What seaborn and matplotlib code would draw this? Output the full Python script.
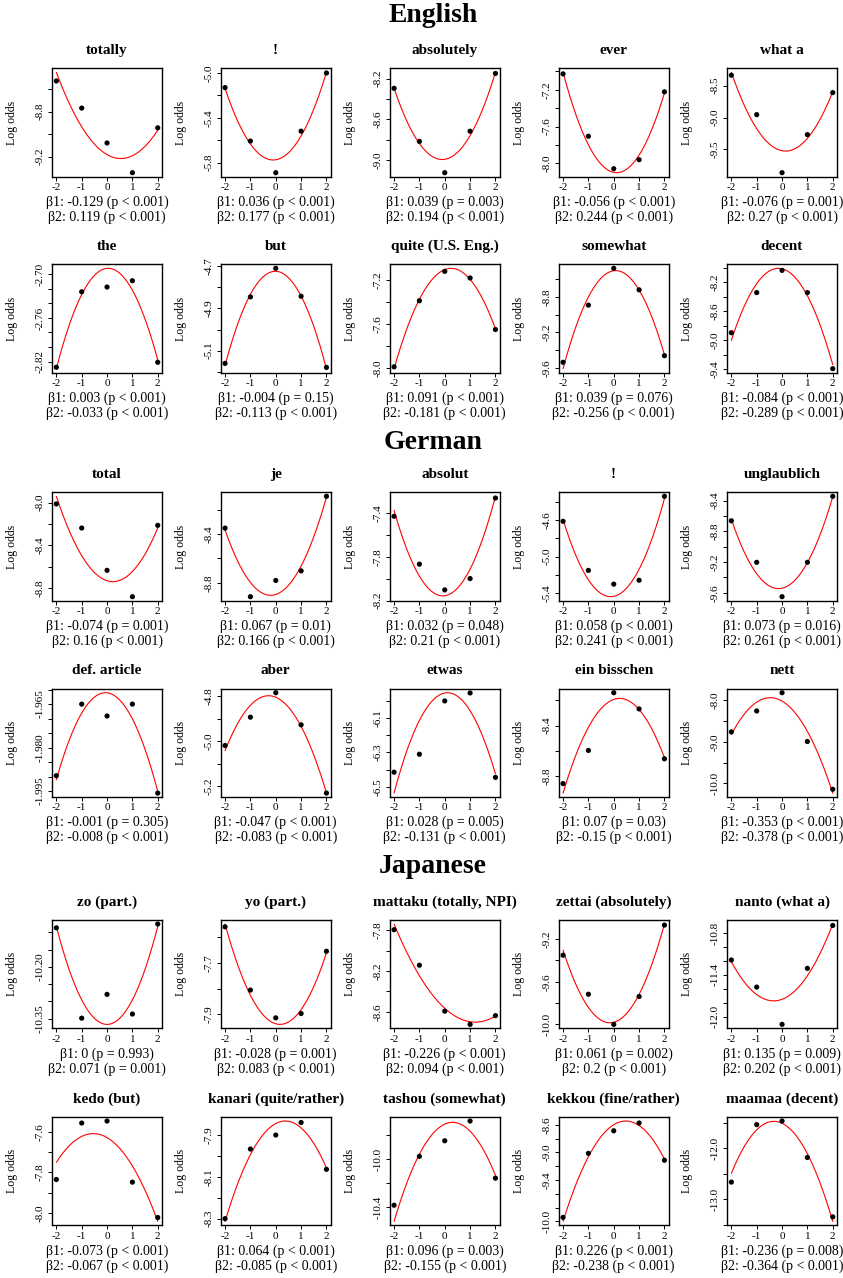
import numpy as np
import matplotlib
matplotlib.use("Agg")
import matplotlib.pyplot as plt
import seaborn as sns
from matplotlib.ticker import MultipleLocator

sns.set_style("ticks")
plt.rcParams['font.family'] = ['Liberation Serif', 'DejaVu Serif']
plt.rcParams['axes.unicode_minus'] = False
for key in ['text.color', 'axes.labelcolor', 'xtick.color', 'ytick.color', 'axes.edgecolor']:
    plt.rcParams[key] = 'black'

# section headers (one per language, two rows of five panels each)
languages = ["English", "German", "Japanese"]

titles = [
    "totally", "!", "absolutely", "ever", "what a",
    "the", "but", "quite (U.S. Eng.)", "somewhat", "decent",
    "total", "je", "absolut", "!", "unglaublich",
    "def. article", "aber", "etwas", "ein bisschen", "nett",
    "zo (part.)", "yo (part.)", "mattaku (totally, NPI)", "zettai (absolutely)", "nanto (what a)",
    "kedo (but)", "kanari (quite/rather)", "tashou (somewhat)", "kekkou (fine/rather)", "maamaa (decent)",
]

x_levels = [-2, -1, 0, 1, 2]

# observed log odds at each level
log_odds = [
    [-8.526, -8.768, -9.079, -9.344, -8.944],
    [-5.130, -5.607, -5.889, -5.519, -5.000],
    [-8.294, -8.815, -9.122, -8.715, -8.148],
    [-7.027, -7.705, -8.058, -7.960, -7.222],
    [-8.335, -8.954, -9.866, -9.268, -8.608],
    [-2.8278, -2.724, -2.7175, -2.7088, -2.821],
    [-5.160, -4.846, -4.711, -4.843, -5.179],
    [-7.991, -7.387, -7.118, -7.179, -7.650],
    [-9.536, -8.893, -8.479, -8.721, -9.462],
    [-8.894, -8.340, -8.033, -8.340, -9.391],
    [-8.012, -8.237, -8.632, -8.878, -8.212],
    [-8.351, -8.914, -8.781, -8.702, -8.090],
    [-7.433, -7.868, -8.102, -7.999, -7.267],
    [-4.611, -5.153, -5.305, -5.262, -4.335],
    [-8.663, -9.204, -9.652, -9.204, -8.344],
    [-1.9897, -1.9650, -1.9691, -1.9650, -1.9957],
    [-5.019, -4.893, -4.784, -4.927, -5.231],
    [-6.415, -6.311, -6.002, -5.956, -6.445],
    [-8.858, -8.596, -8.140, -8.268, -8.662],
    [-8.760, -8.256, -7.816, -8.992, -10.144],
    [-10.087, -10.349, -10.280, -10.337, -10.076],
    [-7.560, -7.806, -7.914, -7.897, -7.655],
    [-7.794, -8.143, -8.594, -8.724, -8.638],
    [-9.351, -9.717, -10.000, -9.738, -9.068],
    [-11.186, -11.574, -12.108, -11.306, -10.692],
    [-7.835, -7.556, -7.546, -7.848, -8.023],
    [-8.300, -7.967, -7.900, -7.840, -8.064],
    [-10.386, -9.978, -9.848, -9.683, -10.160],
    [-9.943, -9.013, -8.685, -8.572, -9.113],
    [-12.665, -11.535, -11.465, -12.181, -13.348],
]

# quadratic model: intercept + b1*x + b2*x^2
intercepts = [
    -9.183, -5.774, -8.991, -8.098, -9.521,
    -2.6918, -4.725, -7.102, -8.506, -8.011,
    -8.729, -8.896, -8.155, -5.440, -9.542,
    -1.9611, -4.804, -5.956, -8.193, -8.018,
    -10.367, -7.937, -8.566, -9.980, -11.749,
    -7.628, -7.845, -9.709, -8.597, -11.509,
]
beta1 = [
    -0.129, 0.036, 0.039, -0.056, -0.076,
    0.003, -0.004, 0.091, 0.039, -0.084,
    -0.074, 0.067, 0.032, 0.058, 0.073,
    -0.001, -0.047, 0.028, 0.07, -0.353,
    0, -0.028, -0.226, 0.061, 0.135,
    -0.073, 0.064, 0.096, 0.226, -0.236,
]
beta2 = [
    0.119, 0.177, 0.194, 0.244, 0.27,
    -0.033, -0.113, -0.181, -0.256, -0.289,
    0.16, 0.166, 0.21, 0.241, 0.261,
    -0.008, -0.083, -0.131, -0.15, -0.378,
    0.071, 0.083, 0.094, 0.2, 0.202,
    -0.067, -0.085, -0.155, -0.238, -0.364,
]
p_beta1 = [
    "< 0.001", "< 0.001", "= 0.003", "< 0.001", "= 0.001",
    "< 0.001", "= 0.15", "< 0.001", "= 0.076", "< 0.001",
    "= 0.001", "= 0.01", "= 0.048", "< 0.001", "= 0.016",
    "= 0.305", "< 0.001", "= 0.005", "= 0.03", "< 0.001",
    "= 0.993", "= 0.001", "< 0.001", "= 0.002", "= 0.009",
    "< 0.001", "< 0.001", "= 0.003", "< 0.001", "= 0.008",
]
p_beta2 = [
    "< 0.001", "< 0.001", "< 0.001", "< 0.001", "< 0.001",
    "< 0.001", "< 0.001", "< 0.001", "< 0.001", "< 0.001",
    "< 0.001", "< 0.001", "< 0.001", "< 0.001", "< 0.001",
    "< 0.001", "< 0.001", "< 0.001", "< 0.001", "< 0.001",
    "= 0.001", "< 0.001", "< 0.001", "< 0.001", "< 0.001",
    "< 0.001", "< 0.001", "< 0.001", "< 0.001", "< 0.001",
]

# labelled y ticks and the spacing of all ticks
ytick_labels = [
    ["-9.2", "-8.8"], ["-5.8", "-5.4", "-5.0"], ["-9.0", "-8.6", "-8.2"],
    ["-8.0", "-7.6", "-7.2"], ["-9.5", "-9.0", "-8.5"],
    ["-2.82", "-2.76", "-2.70"], ["-5.1", "-4.9", "-4.7"], ["-8.0", "-7.6", "-7.2"],
    ["-9.6", "-9.2", "-8.8"], ["-9.4", "-9.0", "-8.6", "-8.2"],
    ["-8.8", "-8.4", "-8.0"], ["-8.8", "-8.4"], ["-8.2", "-7.8", "-7.4"],
    ["-5.4", "-5.0", "-4.6"], ["-9.6", "-9.2", "-8.8", "-8.4"],
    ["-1.995", "-1.980", "-1.965"], ["-5.2", "-5.0", "-4.8"], ["-6.5", "-6.3", "-6.1"],
    ["-8.8", "-8.4"], ["-10.0", "-9.0", "-8.0"],
    ["-10.35", "-10.20"], ["-7.9", "-7.7"], ["-8.6", "-8.2", "-7.8"],
    ["-10.0", "-9.6", "-9.2"], ["-12.0", "-11.4", "-10.8"],
    ["-8.0", "-7.8", "-7.6"], ["-8.3", "-8.1", "-7.9"], ["-10.4", "-10.0"],
    ["-10.0", "-9.4", "-9.0", "-8.6"], ["-13.0", "-12.0"],
]
ytick_steps = [
    0.2, 0.2, 0.2, 0.2, 0.5,
    0.02, 0.1, 0.2, 0.2, 0.2,
    0.2, 0.2, 0.2, 0.2, 0.2,
    0.005, 0.1, 0.1, 0.2, 0.5,
    0.05, 0.1, 0.2, 0.2, 0.2,
    0.1, 0.1, 0.2, 0.2, 0.5,
]

# layout in pixels
W, H = 843, 1278
col_left = [52.3, 221, 390, 559, 727.3]
row_top = [68.3, 264.3, 492.3, 688.7, 920, 1117]
pw, ph = 109.5, 108.4
header_base = [22, 449, 873]

fig = plt.figure(figsize=(W / 100, H / 100), dpi=100)

for lang, yb in zip(languages, header_base):
    fig.text(433 / W, 1 - yb / H, lang, ha='center', va='baseline',
             fontsize=20, fontweight='bold', color='black')

xs = np.linspace(-2, 2, 200)
for i in range(len(titles)):
    r, c = divmod(i, 5)
    ax = fig.add_axes([col_left[c] / W, 1 - (row_top[r] + ph) / H, pw / W, ph / H])

    fit = intercepts[i] + beta1[i] * xs + beta2[i] * xs ** 2
    sns.lineplot(x=xs, y=fit, ax=ax, color='red', lw=0.8, sort=False)
    sns.scatterplot(x=x_levels, y=log_odds[i], ax=ax, color='black', s=14,
                    edgecolor='none', zorder=3)
    ax.margins(x=0.04, y=0.04)

    ax.set_xticks(x_levels, labels=[str(v) for v in x_levels])
    ax.set_yticks([float(s) for s in ytick_labels[i]], labels=ytick_labels[i])
    ax.yaxis.set_minor_locator(MultipleLocator(ytick_steps[i]))
    for t in ax.get_yticklabels():
        t.set_rotation(90)
        t.set_verticalalignment('center')
    ax.tick_params(which='both', direction='out', length=3, width=0.7,
                   labelsize=8, pad=1.5, colors='black')
    ax.tick_params(axis='y', pad=2.5)
    for sp in ax.spines.values():
        sp.set_linewidth(1.0)
        sp.set_color('black')

    ax.set_xlabel('')
    ax.set_ylabel('Log odds', fontsize=8.5, color='black')
    ax.yaxis.set_label_coords(-34 / pw, 0.5)
    ax.set_title(titles[i], fontsize=11, fontweight='bold', pad=10.5, color='black')

    ax.annotate(f"\u03b21: {beta1[i]:g} (p {p_beta1[i]})", xy=(0.5, 0),
                xycoords='axes fraction', xytext=(0, -25.5), textcoords='offset pixels',
                ha='center', va='center', fontsize=10, color='black')
    ax.annotate(f"\u03b22: {beta2[i]:g} (p {p_beta2[i]})", xy=(0.5, 0),
                xycoords='axes fraction', xytext=(0, -40.5), textcoords='offset pixels',
                ha='center', va='center', fontsize=10, color='black')

fig.savefig('out.png', dpi=100)
